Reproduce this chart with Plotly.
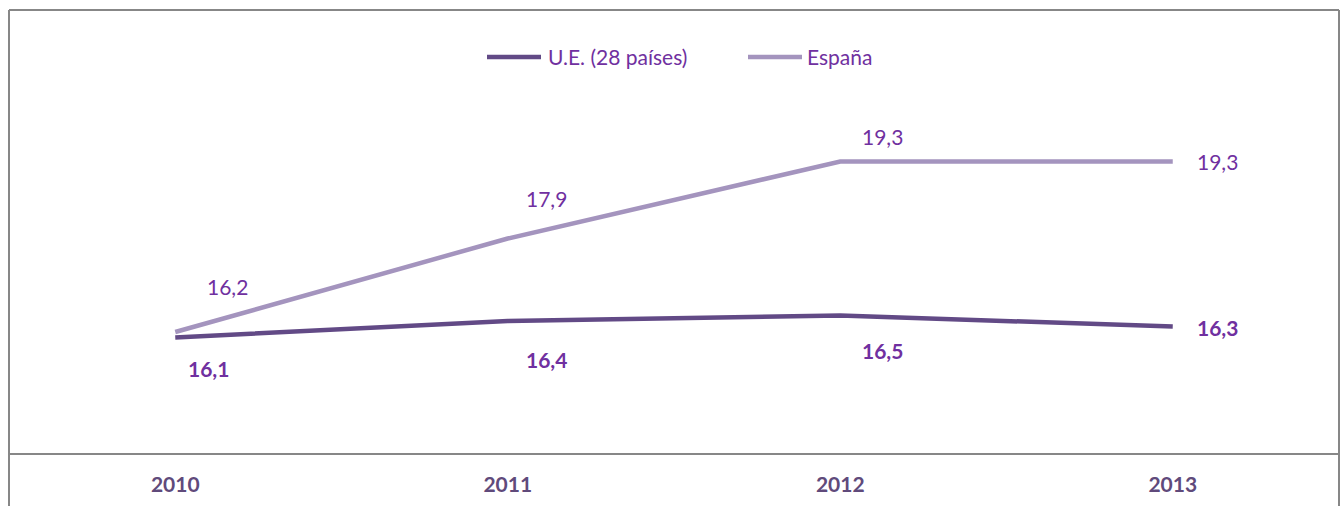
import plotly.graph_objects as go

years = ["2010", "2011", "2012", "2013"]
ue_values = [16.1, 16.4, 16.5, 16.3]
es_values = [16.2, 17.9, 19.3, 19.3]
ue_name = "U.E. (28 países)"
es_name = "España"

# label placement offsets (pixels), styling only
ue_label_dx = [33, 39, 42, 45]
ue_label_dy = [-31, -38, -35, -1]
es_label_dx = [52, 39, 42, 45]
es_label_dy = [46, 40, 25, 0]

FONT = "Lato, 'Open Sans', sans-serif"
FS = 21
UE_COLOR = "#624a86"
ES_COLOR = "#a494be"
LABEL_COLOR = "#7030a0"
TICK_COLOR = "#604a7b"
BORDER = "#878787"

L, R, T, B = 9, 2, 13, 53
W, H = 1341, 506
PW, PH = W - L - R, H - T - B

def px(xp):
    return (xp - L) / PW

def py(yp):
    return (H - B - yp) / PH

def fmt(v):
    return f"{v:.1f}".replace(".", ",")

xi = list(range(len(years)))

fig = go.Figure()
fig.add_trace(go.Scatter(x=xi, y=ue_values, name=ue_name, mode="lines",
                         line=dict(color=UE_COLOR, width=4.5), showlegend=False))
fig.add_trace(go.Scatter(x=xi, y=es_values, name=es_name, mode="lines",
                         line=dict(color=ES_COLOR, width=4.5), showlegend=False))

annotations = []
for x, v, dx, dy in zip(xi, ue_values, ue_label_dx, ue_label_dy):
    annotations.append(dict(x=x, y=v, xref="x", yref="y", text=f"<b>{fmt(v)}</b>",
                            showarrow=False, xshift=dx, yshift=dy,
                            font=dict(family=FONT, size=FS, color=LABEL_COLOR)))
for x, v, dx, dy in zip(xi, es_values, es_label_dx, es_label_dy):
    annotations.append(dict(x=x, y=v, xref="x", yref="y", text=fmt(v),
                            showarrow=False, xshift=dx, yshift=dy,
                            font=dict(family=FONT, size=FS, color=LABEL_COLOR)))

# manual legend
legend_items = [(ue_name, UE_COLOR, 487, 541, 546), (es_name, ES_COLOR, 748, 802, 805)]
shapes = []
for name, color, x0, x1, tx in legend_items:
    shapes.append(dict(type="line", xref="paper", yref="paper", x0=px(x0), x1=px(x1),
                       y0=py(57), y1=py(57), line=dict(color=color, width=4.5)))
    annotations.append(dict(x=px(tx), y=py(57), xref="paper", yref="paper", text=name,
                            showarrow=False, xanchor="left", yanchor="middle",
                            font=dict(family=FONT, size=FS, color=LABEL_COLOR)))

top = py(10)
shapes += [
    dict(type="line", xref="paper", yref="paper", x0=0, x1=1, y0=top, y1=top,
         line=dict(color=BORDER, width=2)),
    dict(type="line", xref="paper", yref="paper", x0=0, x1=0, y0=-0.2, y1=top,
         line=dict(color=BORDER, width=2)),
    dict(type="line", xref="paper", yref="paper", x0=1, x1=1, y0=-0.2, y1=top,
         line=dict(color=BORDER, width=2)),
]

fig.update_layout(
    width=W, height=H,
    margin=dict(l=L, r=R, t=T, b=B),
    paper_bgcolor="white", plot_bgcolor="white",
    font=dict(family=FONT, size=FS, color=LABEL_COLOR),
    showlegend=False,
    annotations=annotations,
    shapes=shapes,
    xaxis=dict(range=[-0.5, 3.5], showgrid=False, zeroline=False,
               tickmode="array", tickvals=xi, ticktext=[f"<b>{y}</b>" for y in years],
               showline=True, linecolor=BORDER, linewidth=2, ticks="",
               tickfont=dict(family=FONT, size=FS, color=TICK_COLOR),
               ticklabelstandoff=12, fixedrange=True),
    yaxis=dict(range=[14, 22], visible=False, showgrid=False, zeroline=False,
               fixedrange=True),
)

fig.write_html("out.html", config={"displayModeBar": False},
               post_script="document.body.style.margin='0';document.body.style.overflow='hidden';")
